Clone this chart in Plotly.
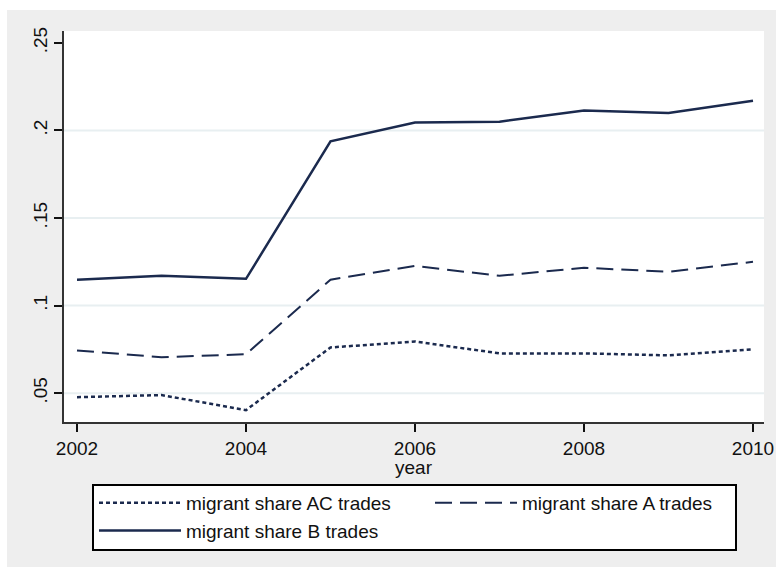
import plotly.graph_objects as go

years = [2002, 2003, 2004, 2005, 2006, 2007, 2008, 2009, 2010]
share_ac = [0.0477, 0.0489, 0.0403, 0.0761, 0.0795, 0.0727, 0.0727, 0.0716, 0.0750]
share_a = [0.0744, 0.0705, 0.0722, 0.1148, 0.1227, 0.1170, 0.1216, 0.1193, 0.1250]
share_b = [0.1148, 0.1170, 0.1153, 0.1938, 0.2045, 0.2050, 0.2114, 0.2100, 0.2170]

y_ticks = [0.05, 0.10, 0.15, 0.20, 0.25]
y_ticktext = [".05", ".1", ".15", ".2", ".25"]
grid_vals = [0.05, 0.10, 0.15, 0.20]
x_ticks = [2002, 2004, 2006, 2008, 2010]
x_title = "year"

navy = "#1b2a4e"
font = "Liberation Sans, Arial, sans-serif"

# plot area in page pixels: left 64, right 764, top 31, bottom 422
PW, PH = 700, 391


def px(xp):
    return (xp - 64) / PW


def py(yp):
    return (422 - yp) / PH


fig = go.Figure()
fig.add_trace(go.Scatter(x=years, y=share_ac, mode="lines", name="migrant share AC trades",
                         line=dict(color=navy, width=2.5, dash="4px,3px"), legend="legend"))
fig.add_trace(go.Scatter(x=years, y=share_a, mode="lines", name="migrant share A trades",
                         line=dict(color=navy, width=2, dash="17px,8px"), legend="legend2"))
fig.add_trace(go.Scatter(x=years, y=share_b, mode="lines", name="migrant share B trades",
                         line=dict(color=navy, width=2.5), legend="legend"))

shapes = []
for g in grid_vals:
    shapes.append(dict(type="line", xref="paper", yref="y", x0=0, x1=1, y0=g, y1=g,
                       line=dict(color="#e8eff1", width=2), layer="below"))
# white outer border strips
shapes += [
    dict(type="rect", xref="paper", yref="paper", x0=-0.2, x1=px(7), y0=-0.5, y1=1.2,
         fillcolor="white", line=dict(width=0), layer="below"),
    dict(type="rect", xref="paper", yref="paper", x0=-0.2, x1=1.2, y0=py(10), y1=1.2,
         fillcolor="white", line=dict(width=0), layer="below"),
    dict(type="rect", xref="paper", yref="paper", x0=-0.2, x1=1.2, y0=-0.5, y1=py(567),
         fillcolor="white", line=dict(width=0), layer="below"),
    # legend box
    dict(type="rect", xref="paper", yref="paper", x0=px(93), x1=px(736),
         y0=py(550), y1=py(485),
         fillcolor="white", line=dict(color="black", width=2), layer="below"),
]

leg_common = dict(orientation="v", yanchor="top", bgcolor="rgba(0,0,0,0)", borderwidth=0,
                  font=dict(family=font, size=19, color="#111111"), itemwidth=82,
                  tracegroupgap=0)

fig.update_layout(
    width=776, height=569,
    margin=dict(l=64, r=12, t=31, b=147, autoexpand=False),
    paper_bgcolor="#eeeeee",
    plot_bgcolor="white",
    font=dict(family=font, size=19, color="#111111"),
    showlegend=True,
    legend=dict(x=px(94), xanchor="left", y=py(484), **leg_common),
    legend2=dict(x=px(430), xanchor="left", y=py(484), **leg_common),
    shapes=shapes,
    annotations=[dict(text=x_title, xref="paper", yref="paper", x=0.5, y=py(467),
                      xanchor="center", yanchor="middle", showarrow=False,
                      font=dict(family=font, size=19, color="#111111"))],
    xaxis=dict(range=[2002 - 13 / 84.5, 2010 + 11 / 84.5], tickvals=x_ticks, showgrid=False,
               zeroline=False, showline=True, linecolor="#333333", linewidth=1.5, automargin=False,
               ticks="outside", ticklen=8, tickwidth=2, tickcolor="#111111",
               tickfont=dict(size=19)),
    yaxis=dict(range=[0.05 - 29 / 1760, 0.25 + 12 / 1760], tickvals=y_ticks, ticktext=y_ticktext,
               showgrid=False, zeroline=False, showline=True, linecolor="#333333", linewidth=1.5,
               automargin=False,
               ticks="outside", ticklen=8, tickwidth=2, tickcolor="#111111",
               tickangle=-90, tickfont=dict(size=19)),
)

fig.write_html("out.html", config={"displayModeBar": False},
               post_script="document.body.style.margin='0';document.body.style.overflow='hidden';")
